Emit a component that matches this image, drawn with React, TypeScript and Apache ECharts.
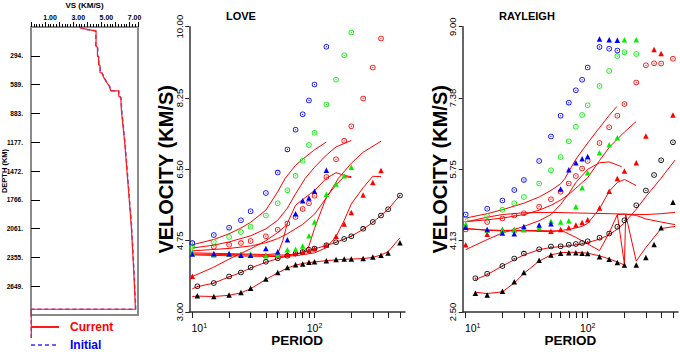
import React, { useEffect, useRef } from 'react';
import * as echarts from 'echarts';

const FONT = 'Liberation Sans, Arial, sans-serif';

// ---------- Model panel ----------
const modelDepthCurrent = [0, 8, 25, 39, 200, 205, 300, 305, 385, 392, 465, 472, 520, 560, 611, 652, 652, 707, 720, 850, 950, 1190, 1530, 2046, 2500, 2885, 2885, 3180];
const modelVsCurrent = [3.50, 3.50, 3.96, 4.62, 4.62, 4.72, 4.72, 4.80, 4.80, 4.90, 4.90, 5.05, 5.18, 5.35, 5.58, 5.66, 6.23, 6.23, 6.38, 6.42, 6.49, 6.66, 6.85, 7.13, 7.30, 7.42, 0.02, 0.02];
const modelDepthInitial = [0, 8, 25, 40, 200, 205, 300, 305, 385, 392, 465, 472, 520, 560, 611, 652, 652, 707, 720, 850, 950, 1190, 1530, 2046, 2500, 2885, 2885, 3180];
const modelVsInitial = [3.48, 3.48, 3.98, 4.60, 4.60, 4.74, 4.74, 4.82, 4.82, 4.92, 4.92, 5.06, 5.20, 5.37, 5.60, 5.67, 6.24, 6.24, 6.39, 6.44, 6.51, 6.68, 6.87, 7.15, 7.32, 7.44, 0.02, 0.02];
const depthTicks = [294, 589, 883, 1177, 1472, 1766, 2061, 2355, 2649];
const vsLabelTicks = [1, 3, 5, 7];

// ---------- axes ----------
const loveYTicks = [3, 4.75, 6.5, 8.25, 10];
const rayYTicks = [2.5, 4.125, 5.75, 7.375, 9];
const periodTicks = [10, 20, 30, 40, 50, 60, 70, 80, 90, 100, 200, 300, 400, 500];
const periodLabels = [10, 100];

// ---------- LOVE observations ----------
const loveBkCircP = [11, 15, 20, 25, 30, 40, 50, 60, 70, 80, 90, 100, 125, 150, 175, 200, 250, 300, 350, 400, 500];
const loveBkCircV = [3.63, 3.71, 3.87, 3.97, 4.09, 4.23, 4.32, 4.38, 4.43, 4.47, 4.53, 4.56, 4.64, 4.71, 4.79, 4.86, 5.04, 5.21, 5.37, 5.52, 5.86];
const loveBkTriP = [11, 15, 20, 25, 30, 40, 50, 60, 70, 80, 90, 100, 125, 150, 175, 200, 250, 300, 350, 400, 500];
const loveBkTriV = [3.40, 3.38, 3.42, 3.48, 3.58, 3.81, 3.97, 4.09, 4.16, 4.18, 4.22, 4.23, 4.26, 4.29, 4.30, 4.30, 4.31, 4.35, 4.39, 4.45, 4.70];
const loveBlCircP = [10, 15, 20, 25, 30, 40, 50, 60, 70, 80, 90, 100, 125];
const loveBlCircV = [4.69, 4.89, 5.07, 5.25, 5.47, 5.92, 6.42, 6.99, 7.47, 7.85, 8.19, 8.58, 9.51];
const loveBlTriP = [10, 15, 20, 25, 30, 40, 50, 60, 70, 80, 90, 100, 125];
const loveBlTriV = [4.42, 4.43, 4.43, 4.39, 4.39, 4.56, 4.48, 4.77, 5.41, 5.73, 5.80, 5.96, 6.48];
const loveGrCircP = [10, 15, 20, 25, 30, 40, 50, 60, 70, 80, 90, 100, 125, 150, 175, 200];
const loveGrCircV = [4.60, 4.72, 4.84, 4.96, 5.09, 5.37, 5.67, 5.99, 6.34, 6.71, 7.10, 7.40, 8.09, 8.70, 9.30, 9.86];
const loveGrTriP = [10, 15, 20, 25, 30, 40, 50, 60, 70, 80, 90, 100, 125, 150, 175, 200];
const loveGrTriV = [4.47, 4.40, 4.42, 4.41, 4.42, 4.38, 4.40, 4.53, 4.54, 4.62, 4.87, 5.21, 5.89, 6.14, 6.34, 6.55];
const loveRdCircP = [15, 20, 25, 30, 40, 50, 60, 70, 80, 90, 100, 125, 150, 175, 200, 250, 300, 350];
const loveRdCircV = [4.60, 4.65, 4.69, 4.74, 4.86, 5.02, 5.17, 5.33, 5.53, 5.67, 5.85, 6.31, 6.75, 7.20, 7.56, 8.24, 9.00, 9.71];
const loveRdTriP = [10, 15, 20, 25, 30, 40, 50, 60, 70, 80, 90, 100, 125, 150, 175, 200, 250, 300, 350];
const loveRdTriV = [3.88, 4.42, 4.43, 4.41, 4.41, 4.39, 4.40, 4.42, 4.44, 4.47, 4.51, 4.55, 4.64, 4.86, 5.16, 5.44, 5.87, 6.18, 6.47];

// ---------- LOVE predicted curves ----------
const loveCurvesP = [
  [10, 11, 15, 20, 25, 30, 40, 50, 60, 70, 80, 90, 100, 125, 150, 175, 200, 250, 300, 350, 400, 500],
  [10, 11, 15, 20, 25, 30, 40, 50, 60, 70, 80, 90, 100, 125, 150, 200, 250, 300, 350, 400, 500],
  [10, 15, 20, 25, 30, 40, 50, 57.5, 70, 80, 100, 125],
  [10, 15, 20, 30, 40, 50, 60, 70, 84, 100, 125, 150, 200],
  [10, 20, 30, 40, 50, 60, 80, 100, 125, 157, 200, 250, 350],
  [10, 15, 20, 30, 40, 50, 55, 60, 70, 80, 100, 125, 150, 175, 200],
  [10, 20, 30, 40, 60, 80, 90, 100, 125, 150, 175, 200],
  [10, 20, 30, 50, 70, 100, 125, 150, 175, 200, 250, 300, 350],
  [10, 15, 20, 30, 40, 50, 60],
];
const loveCurvesV = [
  [3.57, 3.62, 3.71, 3.86, 3.97, 4.08, 4.22, 4.31, 4.37, 4.42, 4.46, 4.51, 4.55, 4.63, 4.71, 4.79, 4.86, 5.03, 5.20, 5.37, 5.52, 5.86],
  [3.38, 3.39, 3.38, 3.41, 3.47, 3.57, 3.80, 3.96, 4.08, 4.15, 4.19, 4.21, 4.23, 4.26, 4.28, 4.30, 4.31, 4.34, 4.40, 4.48, 4.82],
  [4.65, 4.78, 4.92, 5.06, 5.20, 5.50, 5.95, 6.28, 6.60, 6.75, 6.98, 7.17],
  [4.57, 4.64, 4.72, 4.87, 5.04, 5.25, 5.55, 5.90, 6.28, 6.55, 6.85, 7.05, 7.21],
  [4.50, 4.56, 4.62, 4.70, 4.80, 4.92, 5.15, 5.40, 5.80, 6.28, 6.65, 6.92, 7.19],
  [4.45, 4.44, 4.43, 4.42, 4.41, 4.43, 4.75, 5.18, 5.62, 5.76, 5.98, 6.28, 6.42, 6.35, 6.32],
  [4.42, 4.41, 4.40, 4.39, 4.40, 4.45, 4.62, 5.05, 5.82, 6.12, 6.32, 6.30],
  [4.40, 4.38, 4.37, 4.36, 4.38, 4.45, 4.58, 4.85, 5.25, 5.65, 6.05, 6.33, 6.32],
  [3.87, 4.10, 4.30, 4.55, 4.75, 4.95, 5.15],
];

// ---------- RAYLEIGH observations ----------
const rayBkCircP = [12, 15, 20, 25, 30, 40, 50, 60, 70, 80, 90, 100, 125, 150, 175, 200, 250, 300, 350, 400, 500];
const rayBkCircV = [3.27, 3.37, 3.55, 3.72, 3.83, 3.93, 3.99, 4.00, 4.03, 4.05, 4.07, 4.11, 4.19, 4.29, 4.44, 4.59, 4.93, 5.27, 5.62, 5.96, 6.37];
const rayBkTriP = [12, 15, 20, 25, 30, 40, 50, 60, 70, 80, 90, 100, 125, 150, 175, 200, 250, 300, 350, 400, 500];
const rayBkTriV = [2.93, 2.89, 2.97, 3.19, 3.40, 3.68, 3.80, 3.84, 3.85, 3.85, 3.84, 3.83, 3.76, 3.70, 3.63, 3.57, 3.57, 3.74, 4.04, 4.42, 5.00];
const rayBlCircP = [10, 15, 20, 25, 30, 40, 50, 60, 70, 80, 90, 100, 125, 150, 175];
const rayBlCircV = [4.72, 4.85, 5.04, 5.28, 5.51, 5.94, 6.50, 6.97, 7.27, 7.55, 7.79, 8.07, 8.54, 8.50, 8.46];
const rayBlTriP = [10, 15, 20, 25, 30, 40, 50, 60, 70, 80, 90, 100, 125, 150, 175];
const rayBlTriV = [4.43, 4.38, 4.30, 4.28, 4.45, 4.48, 4.51, 5.30, 5.74, 5.90, 5.99, 6.04, 8.72, 8.70, 8.69];
const rayGrCircP = [10, 15, 20, 25, 30, 40, 50, 60, 70, 80, 90, 100, 125, 150, 175, 200, 250];
const rayGrCircV = [4.61, 4.69, 4.83, 4.98, 5.12, 5.43, 5.73, 6.03, 6.39, 6.72, 6.99, 7.21, 7.65, 7.99, 8.33, 8.42, 8.38];
const rayGrTriP = [10, 15, 20, 25, 30, 40, 50, 60, 70, 80, 90, 100, 125, 150, 175, 200, 250];
const rayGrTriV = [4.50, 4.37, 4.36, 4.37, 4.38, 4.42, 4.57, 4.55, 4.58, 4.90, 5.33, 5.67, 6.13, 6.31, 6.47, 8.70, 8.70];
const rayRdCircP = [10, 15, 20, 25, 30, 40, 50, 60, 70, 80, 90, 100, 125, 150, 175, 200, 250, 300, 350, 400, 500];
const rayRdCircV = [4.38, 4.55, 4.63, 4.70, 4.75, 4.90, 5.07, 5.24, 5.43, 5.60, 5.77, 5.94, 6.35, 6.71, 6.97, 7.24, 7.73, 8.12, 8.17, 8.16, 8.27];
const rayRdTriP = [10, 15, 20, 25, 30, 40, 50, 60, 70, 80, 90, 100, 125, 150, 175, 200, 250, 300, 350, 400, 500];
const rayRdTriV = [4.03, 4.27, 4.38, 4.38, 4.38, 4.39, 4.34, 4.38, 4.42, 4.48, 4.54, 4.60, 4.87, 5.25, 5.54, 5.71, 5.90, 6.51, 8.48, 8.39, 6.99];

// ---------- RAYLEIGH predicted curves ----------
const rayCurvesP = [
  [12, 15, 20, 25, 30, 40, 50, 60, 70, 80, 90, 100, 125, 150, 175, 200, 250, 300, 400, 520],
  [12, 15, 20, 25, 30, 40, 50, 60, 70, 80, 90, 100, 125, 150, 175, 200],
  [10, 15, 20, 30, 40, 50, 60, 65, 70, 80, 100, 125, 150, 173],
  [10, 15, 20, 30, 40, 50, 60, 70, 80, 90, 100, 125, 150, 200, 250],
  [10, 15, 20, 30, 50, 100, 150, 200, 300, 400, 520],
  [10, 15, 20, 30, 50, 63, 80, 100, 125, 150, 175, 200, 205, 250, 300, 400, 520],
  [10, 15, 20, 30, 50, 70, 90, 100, 125, 150, 175, 200, 250],
  [10, 15, 20, 30, 40, 50, 60, 70, 80, 100, 125, 150, 190],
  [175, 200, 250, 300, 400, 520],
];
const rayCurvesV = [
  [3.24, 3.35, 3.55, 3.69, 3.80, 3.92, 3.97, 3.99, 4.01, 4.03, 4.05, 4.08, 4.16, 4.26, 4.39, 4.53, 4.84, 5.13, 5.55, 5.96],
  [2.95, 2.92, 2.96, 3.16, 3.38, 3.66, 3.80, 3.85, 3.86, 3.86, 3.85, 3.84, 3.78, 3.71, 3.64, 3.57],
  [4.64, 4.74, 4.83, 4.98, 5.12, 5.27, 5.42, 5.54, 5.70, 5.98, 6.35, 6.70, 6.98, 7.18],
  [4.56, 4.60, 4.64, 4.72, 4.82, 4.93, 5.05, 5.18, 5.32, 5.45, 5.56, 5.95, 6.25, 6.60, 6.84],
  [4.55, 4.66, 4.72, 4.76, 4.77, 4.75, 4.74, 4.73, 4.72, 4.74, 4.77],
  [4.40, 4.37, 4.36, 4.36, 4.35, 4.34, 4.20, 4.05, 3.90, 4.30, 4.72, 3.59, 4.72, 3.66, 3.97, 4.40, 4.45],
  [4.40, 4.36, 4.35, 4.35, 4.33, 4.38, 4.45, 4.52, 4.85, 5.25, 5.45, 5.52, 5.38],
  [3.92, 4.15, 4.30, 4.45, 4.58, 4.72, 4.95, 5.20, 5.45, 5.75, 5.90, 5.92, 5.81],
  [4.72, 4.73, 4.70, 4.62, 4.55, 4.49],
];

const CIRCLE = 'path://M0,5A5,5 0 1,1 10,5A5,5 0 1,1 0,5ZM1.4,5A3.6,3.6 0 1,0 8.6,5A3.6,3.6 0 1,0 1.4,5ZM3.9,5A1.1,1.1 0 1,1 6.1,5A1.1,1.1 0 1,1 3.9,5Z';
const GREEN = '#00f000';

const zip = (a: number[], b: number[]) => a.map((x, i) => [x, b[i]]);

function marks(axis: number, p: number[], v: number[], color: string, kind: 'c' | 't') {
  return {
    type: 'scatter',
    xAxisIndex: axis,
    yAxisIndex: axis,
    data: zip(p, v),
    symbol: kind === 'c' ? CIRCLE : 'triangle',
    symbolSize: 5.5,
    itemStyle: { color, opacity: 1 },
    silent: true,
    z: 4,
  };
}

function curve(axis: number, p: number[], v: number[]) {
  return {
    type: 'line',
    xAxisIndex: axis,
    yAxisIndex: axis,
    data: zip(p, v),
    symbol: 'none',
    showSymbol: false,
    lineStyle: { color: '#ff0000', width: 1 },
    silent: true,
    z: 3,
  };
}

function periodAxis(grid: number) {
  return {
    type: 'log',
    gridIndex: grid,
    logBase: 10,
    min: 9.45,
    max: 550,
    axisLine: { show: true, onZero: false, lineStyle: { color: '#333', width: 1.5 } },
    axisTick: { show: true, customValues: periodTicks, length: 6, lineStyle: { color: '#222', width: 1 } },
    splitLine: { show: false },
    minorTick: { show: false },
    axisLabel: {
      customValues: periodLabels,
      margin: 10,
      formatter: (v: number) => {
        const e = Math.round(Math.log10(v));
        return e === 1 ? '{p|}{b|10}{s|1}' : '{b|10}{s|' + e + '}';
      },
      rich: {
        b: { fontSize: 10.5, fontFamily: FONT, color: '#000', lineHeight: 11 },
        s: { fontSize: 7, fontFamily: FONT, color: '#000', verticalAlign: 'top', lineHeight: 11 },
        p: { width: 14 },
      },
    },
    name: 'PERIOD',
    nameLocation: 'middle',
    nameGap: 21,
    nameMoveOverlap: false,
    nameTextStyle: { fontSize: 13.5, fontWeight: 'bold', fontFamily: FONT, color: '#000' },
  };
}

function velAxis(grid: number, ticks: number[]) {
  return {
    type: 'value',
    gridIndex: grid,
    min: ticks[0],
    max: ticks[ticks.length - 1],
    axisLine: { show: true, onZero: false, lineStyle: { color: '#333', width: 1.5 } },
    axisTick: { show: true, customValues: ticks, length: 4, lineStyle: { color: '#222' } },
    splitLine: { show: false },
    axisLabel: {
      customValues: ticks,
      rotate: 90,
      margin: 5,
      fontSize: 9.5,
      fontFamily: FONT,
      color: '#000',
      formatter: (v: number) => v.toFixed(2),
    },
    name: 'VELOCITY (KM/S)',
    nameLocation: 'middle',
    nameRotate: 90,
    nameGap: 13,
    nameMoveOverlap: false,
    nameTextStyle: { fontSize: 20, fontWeight: 'bold', fontFamily: FONT, color: '#000' },
  };
}

export default function App() {
  const ref = useRef<HTMLDivElement>(null);
  useEffect(() => {
    if (!ref.current) return;
    const chart = echarts.init(ref.current, undefined, { renderer: 'svg' });
    const series: any[] = [
      {
        name: 'Initial',
        type: 'line',
        xAxisIndex: 0,
        yAxisIndex: 0,
        data: zip(modelVsInitial, modelDepthInitial),
        symbol: 'none',
        clip: false,
        itemStyle: { color: '#6a5cff' },
        lineStyle: { color: '#6a5cff', width: 1.5, type: [4, 3] },
        z: 3,
      },
      {
        name: 'Current',
        type: 'line',
        xAxisIndex: 0,
        yAxisIndex: 0,
        data: zip(modelVsCurrent, modelDepthCurrent),
        symbol: 'none',
        clip: false,
        itemStyle: { color: '#ff1a1a' },
        lineStyle: { color: '#ff1a1a', width: 1.2 },
        z: 4,
      },
    ];
    loveCurvesP.forEach((p, i) => series.push(curve(1, p, loveCurvesV[i])));
    series.push(
      marks(1, loveBkCircP, loveBkCircV, '#000', 'c'),
      marks(1, loveBkTriP, loveBkTriV, '#000', 't'),
      marks(1, loveRdCircP, loveRdCircV, '#ff0000', 'c'),
      marks(1, loveRdTriP, loveRdTriV, '#ff0000', 't'),
      marks(1, loveGrCircP, loveGrCircV, GREEN, 'c'),
      marks(1, loveGrTriP, loveGrTriV, GREEN, 't'),
      marks(1, loveBlCircP, loveBlCircV, '#0000ff', 'c'),
      marks(1, loveBlTriP, loveBlTriV, '#0000ff', 't'),
    );
    rayCurvesP.forEach((p, i) => series.push(curve(2, p, rayCurvesV[i])));
    series.push(
      marks(2, rayBkCircP, rayBkCircV, '#000', 'c'),
      marks(2, rayBkTriP, rayBkTriV, '#000', 't'),
      marks(2, rayRdCircP, rayRdCircV, '#ff0000', 'c'),
      marks(2, rayRdTriP, rayRdTriV, '#ff0000', 't'),
      marks(2, rayGrCircP, rayGrCircV, GREEN, 'c'),
      marks(2, rayGrTriP, rayGrTriV, GREEN, 't'),
      marks(2, rayBlCircP, rayBlCircV, '#0000ff', 'c'),
      marks(2, rayBlTriP, rayBlTriV, '#0000ff', 't'),
    );
    chart.setOption({
      animation: false,
      backgroundColor: '#fff',
      textStyle: { fontFamily: FONT },
      title: [
        { text: 'LOVE', left: 226, top: 10, padding: 0, textStyle: { fontSize: 11, fontWeight: 'bold', fontFamily: FONT, color: '#000' } },
        { text: 'RAYLEIGH', left: 499, top: 10, padding: 0, textStyle: { fontSize: 11, fontWeight: 'bold', fontFamily: FONT, color: '#000' } },
      ],
      legend: {
        data: [
          { name: 'Current', textStyle: { color: '#ff0000' } },
          { name: 'Initial', textStyle: { color: '#0000ff' } },
        ],
        orient: 'vertical',
        left: 30,
        top: 321,
        height: 40,
        padding: 0,
        itemWidth: 28,
        itemHeight: 10,
        itemGap: 6,
        selectedMode: false,
        itemStyle: { opacity: 0 },
        textStyle: { fontSize: 12, lineHeight: 12, fontWeight: 'bold', fontFamily: FONT, padding: [0, 0, 0, 6] },
      },
      grid: [
        { left: 31, top: 27, width: 107, height: 288, show: true, borderColor: '#8a8a8a', borderWidth: 2, backgroundColor: 'transparent', outerBoundsMode: 'none', containLabel: false },
        { left: 189.3, top: 26.7, width: 215.7, height: 288.3, show: false },
        { left: 462.7, top: 26.7, width: 215.3, height: 288.3, show: false },
      ],
      xAxis: [
        {
          type: 'value',
          gridIndex: 0,
          position: 'top',
          min: 0,
          max: 7.6,
          interval: 1,
          axisLine: { show: true, onZero: false, lineStyle: { color: '#8a8a8a', width: 2 } },
          axisTick: { show: true, length: 5, lineStyle: { color: '#000' } },
          minorTick: { show: true, splitNumber: 5, length: 3, lineStyle: { color: '#000' } },
          splitLine: { show: false },
          axisLabel: {
            margin: 6,
            fontSize: 7,
            fontWeight: 'bold',
            fontFamily: FONT,
            color: '#000',
            showMaxLabel: false,
            padding: [0, 0, 0, 10],
            formatter: (v: number) => (vsLabelTicks.includes(Math.round(v * 100) / 100) ? v.toFixed(2) : ''),
          },
          name: 'VS (KM/S)',
          nameLocation: 'middle',
          nameGap: 13,
          nameTextStyle: { fontSize: 8, fontWeight: 'bold', fontFamily: FONT, color: '#000' },
        },
        periodAxis(1),
        periodAxis(2),
      ],
      yAxis: [
        {
          type: 'value',
          gridIndex: 0,
          inverse: true,
          min: 0,
          max: 2944,
          axisLine: { show: false },
          axisTick: { show: true, inside: true, customValues: depthTicks, length: 9, lineStyle: { color: '#000' } },
          splitLine: { show: false },
          axisLabel: {
            customValues: depthTicks,
            margin: 8,
            fontSize: 6.5,
            fontWeight: 'bold',
            fontFamily: FONT,
            color: '#000',
            formatter: (v: number) => v + '.',
          },
          name: 'DEPTH (KM)',
          nameLocation: 'middle',
          nameRotate: 90,
          nameGap: 23,
          nameMoveOverlap: false,
          nameTextStyle: { fontSize: 7.5, fontWeight: 'bold', fontFamily: FONT, color: '#000' },
        },
        velAxis(1, loveYTicks),
        velAxis(2, rayYTicks),
      ],
      series,
    });
    return () => chart.dispose();
  }, []);
  return <div ref={ref} style={{ position: 'fixed', left: 0, top: 0, width: 680, height: 352, background: '#fff' }} />;
}
